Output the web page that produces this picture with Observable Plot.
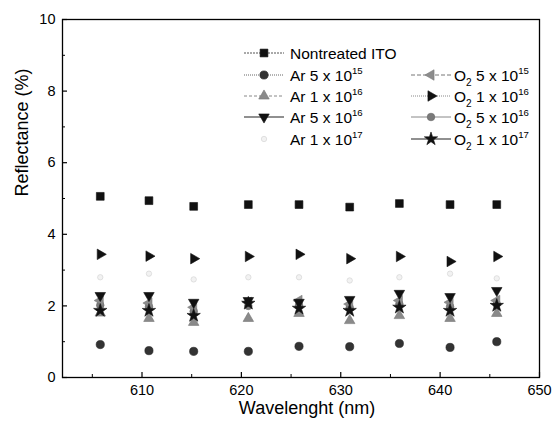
<!DOCTYPE html>
<html><head><meta charset="utf-8">
<script src="https://cdn.jsdelivr.net/npm/d3@7"></script>
<script src="https://cdn.jsdelivr.net/npm/@observablehq/plot@0.6"></script>
<style>
body{margin:0;background:#fff}
#wrap{position:relative;width:553px;height:423px}
#legend{position:absolute;left:0;top:0}
</style>
</head><body><div id="wrap"></div>
<script>
const wavelengths = [605.8, 610.7, 615.2, 620.7, 625.8, 630.9, 635.9, 641.0, 645.7];
const nontreated = [5.06, 4.94, 4.78, 4.83, 4.83, 4.76, 4.86, 4.83, 4.83];
const ar5e15  = [0.92, 0.75, 0.73, 0.73, 0.87, 0.86, 0.95, 0.84, 1.00];
const ar1e16  = [1.80, 1.65, 1.54, 1.65, 1.79, 1.59, 1.73, 1.65, 1.79];
const ar5e16  = [2.29, 2.29, 2.10, 2.15, 2.10, 2.18, 2.35, 2.26, 2.43];
const ar1e17  = [2.80, 2.90, 2.74, 2.80, 2.80, 2.71, 2.80, 2.90, 2.77];
const o2_5e15 = [2.15, 2.08, 1.96, 2.10, 2.15, 2.05, 2.15, 2.10, 2.15];
const o2_1e16 = [3.44, 3.39, 3.32, 3.38, 3.44, 3.32, 3.38, 3.24, 3.38];
const o2_5e16 = [2.02, 1.98, 1.85, 2.00, 2.02, 1.95, 2.05, 1.98, 2.05];
const o2_1e17 = [1.87, 1.87, 1.73, 2.07, 1.93, 1.87, 1.96, 1.87, 2.01];
const xTicks = [610, 620, 630, 640, 650];
const xMinor = [605, 615, 625, 635, 645];
const yTicks = [0, 2, 4, 6, 8, 10];
const yMinor = [1, 3, 5, 7, 9];
const xTitle = "Wavelenght (nm)";
const yTitle = "Reflectance (%)";

// custom triangle symbols
function tri(dir) {
  return {draw(ctx, size) {
    const y = -Math.sqrt(size / (Math.sqrt(3) * 3));
    const s3 = Math.sqrt(3);
    let pts = [[0, 2 * y], [-s3 * y, -y], [s3 * y, -y]];
    if (dir === "down") pts = pts.map(([a, b]) => [a, -b]);
    if (dir === "left") pts = pts.map(([a, b]) => [b, a]);
    if (dir === "right") pts = pts.map(([a, b]) => [-b, a]);
    ctx.moveTo(pts[0][0], pts[0][1]);
    ctx.lineTo(pts[1][0], pts[1][1]);
    ctx.lineTo(pts[2][0], pts[2][1]);
    ctx.closePath();
  }};
}

const series = [
  {key: "nt", label: {text: "Nontreated ITO"}, values: nontreated, symbol: "square", fill: "#111", stroke: "#111", r: 4.4, line: {stroke: "#555", dash: "2,1", w: 1}},
  {key: "ar5e15", label: {base: "Ar", coef: "5", exp: "15"}, values: ar5e15, symbol: "circle", fill: "#333", stroke: "#222", r: 4.1, line: {stroke: "#666", dash: "1,1", w: 1}},
  {key: "ar1e16", label: {base: "Ar", coef: "1", exp: "16"}, values: ar1e16, symbol: tri("up"), fill: "#8a8a8a", stroke: "#777", r: 3.9, line: {stroke: "#888", dash: "3,2", w: 1}},
  {key: "ar5e16", label: {base: "Ar", coef: "5", exp: "16"}, values: ar5e16, symbol: tri("down"), fill: "#111", stroke: "#111", r: 3.9, line: {stroke: "#222", dash: null, w: 1.2}},
  {key: "ar1e17", label: {base: "Ar", coef: "1", exp: "17"}, values: ar1e17, symbol: "circle", fill: "#f2f2f2", stroke: "#d0d0d0", r: 2.7, line: null},
  {key: "o2_5e15", label: {base: "O2", coef: "5", exp: "15"}, values: o2_5e15, symbol: tri("left"), fill: "#8c8c8c", stroke: "#7a7a7a", r: 3.9, line: {stroke: "#777", dash: "4,2", w: 1}},
  {key: "o2_1e16", label: {base: "O2", coef: "1", exp: "16"}, values: o2_1e16, symbol: tri("right"), fill: "#111", stroke: "#111", r: 3.9, line: {stroke: "#888", dash: "1,1", w: 1}},
  {key: "o2_5e16", label: {base: "O2", coef: "5", exp: "16"}, values: o2_5e16, symbol: "circle", fill: "#7a7a7a", stroke: "#666", r: 3.8, line: {stroke: "#888", dash: null, w: 1}},
  {key: "o2_1e17", label: {base: "O2", coef: "1", exp: "17"}, values: o2_1e17, symbol: "star", fill: "#111", stroke: "#111", r: 4.2, line: {stroke: "#222", dash: null, w: 1.2}}
];

const drawOrder = ["o2_5e16", "ar1e16", "o2_5e15", "ar5e16", "o2_1e17", "ar1e17", "ar5e15", "o2_1e16", "nt"];
const rows = s => wavelengths.map((w, i) => ({x: w, y: s.values[i]}));

const dotMarks = drawOrder.map(k => {
  const s = series.find(d => d.key === k);
  return Plot.dot(rows(s), {x: "x", y: "y", symbol: s.symbol, r: s.r, fill: s.fill, stroke: s.stroke, strokeWidth: 0.6});
});

const chart = Plot.plot({
  width: 553, height: 423,
  marginLeft: 62, marginRight: 14, marginTop: 19, marginBottom: 46,
  style: {fontFamily: "'Liberation Sans', Arial, sans-serif", fontSize: "14px", background: "#fff", color: "#000"},
  x: {domain: [602, 650]},
  y: {domain: [0, 10]},
  marks: [
    Plot.axisX({ticks: xTicks, tickSize: -5, tickPadding: 12, fontSize: 14.5, label: null, strokeWidth: 1.2}),
    Plot.axisX({ticks: xMinor, tickSize: -3, text: null, label: null}),
    Plot.axisY({ticks: yTicks, tickSize: -5, tickPadding: 12, fontSize: 14.5, label: null, strokeWidth: 1.2}),
    Plot.axisY({ticks: yMinor, tickSize: -3, text: null, label: null}),
    Plot.text([xTitle], {text: d => d, frameAnchor: "bottom", dy: 31, dx: 6, fontSize: 18, lineAnchor: "middle"}),
    Plot.text([yTitle], {text: d => d, frameAnchor: "left", dx: -40, dy: -2, rotate: -90, fontSize: 18, lineAnchor: "middle"}),
    ...dotMarks,
    Plot.frame({stroke: "#000", strokeWidth: 1.3})
  ]
});

const wrap = document.getElementById("wrap");
wrap.appendChild(chart);

// legend overlay
const leg = d3.select(wrap).append("svg").attr("id", "legend")
  .attr("width", 553).attr("height", 423)
  .style("font-family", "'Liberation Sans', Arial, sans-serif");

const layout = {
  nt: [244, 53], ar5e15: [244, 75], ar1e16: [244, 96], ar5e16: [244, 117], ar1e17: [244, 139],
  o2_5e15: [411, 75], o2_1e16: [411, 96], o2_5e16: [411, 117], o2_1e17: [411, 139]
};
const lineLen = 40, fs = 15.5;

series.forEach(s => {
  const [x0, y0] = layout[s.key];
  const g = leg.append("g");
  if (s.line) {
    g.append("line").attr("x1", x0).attr("x2", x0 + lineLen).attr("y1", y0).attr("y2", y0)
      .attr("stroke", s.line.stroke).attr("stroke-width", s.line.w)
      .attr("stroke-dasharray", s.line.dash);
  }
  const sym = typeof s.symbol === "string"
    ? {square: d3.symbolSquare, circle: d3.symbolCircle, star: d3.symbolStar}[s.symbol]
    : s.symbol;
  g.append("path").attr("d", d3.symbol(sym, s.r * s.r * Math.PI)())
    .attr("transform", `translate(${x0 + lineLen / 2},${y0})`)
    .attr("fill", s.fill).attr("stroke", s.stroke).attr("stroke-width", 0.6);
  const t = g.append("text").attr("x", x0 + lineLen + (s.key.startsWith("o2") ? 3 : 6)).attr("y", y0)
    .attr("dy", "0.36em").attr("font-size", fs).attr("fill", "#000");
  if (s.label.text) {
    t.text(s.label.text);
  } else if (s.label.base === "O2") {
    t.append("tspan").text("O");
    t.append("tspan").attr("font-size", fs * 0.65).attr("dy", 5).text("2");
    t.append("tspan").attr("dy", -5).text(` ${s.label.coef} x 10`);
    t.append("tspan").attr("font-size", fs * 0.62).attr("dy", -7).text(s.label.exp);
  } else {
    t.append("tspan").text(`${s.label.base} ${s.label.coef} x 10`);
    t.append("tspan").attr("font-size", fs * 0.62).attr("dy", -7).text(s.label.exp);
  }
});
</script>
</body></html>
